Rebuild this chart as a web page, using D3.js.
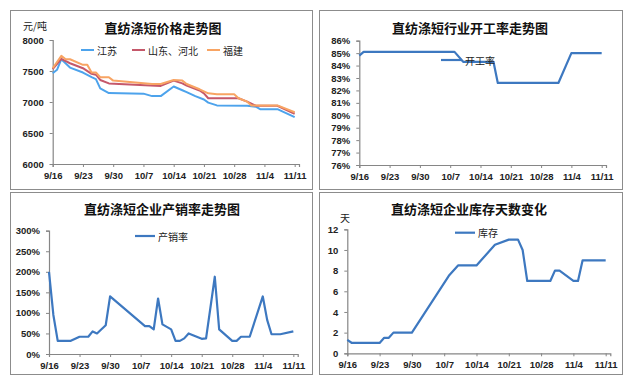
<!DOCTYPE html>
<html>
<head>
<meta charset="utf-8">
<script src="https://cdn.jsdelivr.net/npm/d3@7"></script>
<style>
  body { margin: 0; background: #fff; }
  svg { display: block; }
  .tick-label { font: bold 9.5px "Liberation Sans", Arial, sans-serif; fill: #222; }
  .title { font: bold 13px "Noto Sans CJK SC", sans-serif; fill: #111; }
  .legend, .unit { font: 10px "Noto Sans CJK SC", sans-serif; fill: #222; }
</style>
</head>
<body>
<svg id="chart" width="635" height="387"></svg>
<script>
// x tick labels shared by all four panels
const dateTicks = ["9/16", "9/23", "9/30", "10/7", "10/14", "10/21", "10/28", "11/4", "11/11"];
const dateEnd = "11/12";

// 价格 (元/吨)
const jsDates = ["9/16","9/17","9/18","9/20","9/23","9/25","9/26","9/27","9/29","10/7","10/9","10/11","10/14","10/16","10/17","10/19","10/21","10/22","10/24","10/31","11/2","11/3","11/7","11/11"];
const jsPrice = [7465,7520,7690,7555,7475,7400,7370,7220,7145,7135,7095,7095,7250,7190,7160,7095,7040,6990,6945,6940,6925,6885,6885,6755];

const sdDates = ["9/16","9/18","9/20","9/23","9/25","9/26","9/27","9/29","10/11","10/14","10/16","10/17","10/20","10/21","10/22","10/29","10/31","11/2","11/7","11/11"];
const sdPrice = [7530,7695,7625,7545,7455,7440,7355,7300,7260,7345,7300,7265,7185,7140,7060,7060,7005,6940,6940,6810];

const fjDates = ["9/16","9/18","9/19","9/20","9/23","9/24","9/25","9/26","9/27","9/29","9/30","10/9","10/11","10/14","10/16","10/17","10/20","10/22","10/24","10/28","10/29","10/31","11/1","11/7","11/11"];
const fjPrice = [7545,7745,7690,7690,7600,7600,7475,7475,7400,7400,7345,7290,7290,7355,7345,7290,7205,7140,7125,7125,7060,7005,6945,6945,6835];

// 开工率 (%)
const runDates = ["9/16","9/17","10/8","10/10","10/17","10/18","11/1","11/4","11/11"];
const runRate = [84.8,85.1,85.1,84.3,84.3,82.6,82.6,85.0,85.0];

// 产销率 (%)
const psDates = ["9/16","9/17","9/18","9/21","9/23","9/25","9/26","9/27","9/29","9/30","10/8","10/9","10/10","10/11","10/12","10/14","10/15","10/16","10/17","10/18","10/21","10/22","10/24","10/25","10/28","10/29","10/30","11/1","11/4","11/5","11/6","11/8","11/11"];
const psRate = [200,95,32,32,42,42,55,50,70,140,68,68,60,135,72,60,32,32,38,50,37,38,188,60,32,32,42,42,140,83,48,48,55];

// 库存天数
const stDates = ["9/16","9/17","9/23","9/24","9/25","9/26","9/30","10/8","10/10","10/14","10/15","10/18","10/21","10/23","10/24","10/25","10/30","10/31","11/1","11/4","11/5","11/6","11/11"];
const stDays = [1.3,1,1,1.5,1.5,2,2,7.5,8.5,8.5,9,10.5,11,11,10,7,7,8,8,7,7,9,9];

const parseDate = d3.utcParse("%Y/%m/%d");
const toDate = s => parseDate("2013/" + s);

const svg = d3.select("#chart");
const axisColor = "#868686";

function drawPanel(p) {
  const g = svg.append("g");

  // panel frame
  g.append("rect")
      .attr("x", p.box[0] + 0.5).attr("y", p.box[1] + 0.5)
      .attr("width", p.box[2] - p.box[0]).attr("height", p.box[3] - p.box[1])
      .attr("fill", "#fff").attr("stroke", "#8c8c8c");

  const x = d3.scaleUtc()
      .domain([toDate(dateTicks[0]), toDate(dateEnd)])
      .range([p.plot[0], p.plot[2]]);
  const y = d3.scaleLinear()
      .domain(p.yDomain)
      .range([p.plot[3], p.plot[1]]);

  // y axis
  const yAxis = g.append("g")
      .attr("transform", `translate(${p.plot[0]},0)`)
      .call(d3.axisLeft(y).tickValues(p.yTicks).tickSize(3).tickPadding(6).tickFormat(p.yFormat));
  // x axis
  const xAxis = g.append("g")
      .attr("transform", `translate(0,${p.plot[3]})`)
      .call(d3.axisBottom(x).tickValues(dateTicks.map(toDate)).tickSize(3).tickPadding(5)
        .tickFormat(d3.utcFormat("%-m/%-d")));

  [yAxis, xAxis].forEach(a => {
    a.select(".domain").attr("stroke", axisColor).attr("stroke-width", 1.2);
    a.selectAll(".tick line").attr("stroke", axisColor);
    a.selectAll(".tick text").attr("class", "tick-label").attr("font-size", null).attr("font-family", null);
    a.attr("font-size", null).attr("font-family", null);
  });

  // title and unit
  g.append("text").attr("class", "title")
      .attr("x", p.titlePos[0]).attr("y", p.titlePos[1])
      .attr("text-anchor", "middle").attr("dominant-baseline", "central")
      .text(p.title);
  if (p.unit) {
    g.append("text").attr("class", "unit")
        .attr("x", p.unitPos[0]).attr("y", p.unitPos[1])
        .attr("dominant-baseline", "central")
        .text(p.unit);
  }

  const line = d3.line()
      .x(d => x(d.date))
      .y(d => y(d.value));

  p.series.forEach(s => {
    const data = s.dates.map((dt, i) => ({date: toDate(dt), value: s.values[i]}));
    g.append("path")
        .datum(data)
        .attr("fill", "none")
        .attr("stroke", s.color)
        .attr("stroke-width", s.width)
        .attr("stroke-linejoin", "round")
        .attr("d", line);
  });

  // legend (drawn last, over the lines like the original)
  p.series.forEach((s, i) => {
    const lx = p.legendX[i], ly = p.legendY;
    g.append("line")
        .attr("x1", lx).attr("x2", lx + p.legendLen)
        .attr("y1", ly).attr("y2", ly)
        .attr("stroke", s.color).attr("stroke-width", s.width);
    g.append("text").attr("class", "legend")
        .attr("x", lx + p.legendLen + 3).attr("y", ly)
        .attr("dominant-baseline", "central")
        .text(s.name);
  });
}

const pct = d => d + "%";

drawPanel({
  box: [10, 10, 312, 189],
  plot: [52.7, 40, 299, 164],
  yDomain: [6000, 8000],
  yTicks: d3.range(6000, 8001, 500),
  yFormat: d => d,
  title: "直纺涤短价格走势图",
  titlePos: [163, 27],
  unit: "元/吨",
  unitPos: [23, 25],
  legendX: [81, 132, 207],
  legendY: 50,
  legendLen: 13,
  series: [
    {name: "江苏", dates: jsDates, values: jsPrice, color: "#4da3ec", width: 2},
    {name: "山东、河北", dates: sdDates, values: sdPrice, color: "#c5586a", width: 2},
    {name: "福建", dates: fjDates, values: fjPrice, color: "#f8a463", width: 2}
  ]
});

drawPanel({
  box: [319, 10, 622, 189],
  plot: [359.3, 40.7, 606, 165],
  yDomain: [76, 86],
  yTicks: d3.range(76, 87, 1),
  yFormat: pct,
  title: "直纺涤短行业开工率走势图",
  titlePos: [470, 27],
  legendX: [441],
  legendY: 60,
  legendLen: 21,
  series: [
    {name: "开工率", dates: runDates, values: runRate, color: "#3d78c0", width: 2.2}
  ]
});

drawPanel({
  box: [10, 192, 312, 374],
  plot: [49, 230.7, 297.7, 354],
  yDomain: [0, 300],
  yTicks: d3.range(0, 301, 50),
  yFormat: pct,
  title: "直纺涤短企业产销率走势图",
  titlePos: [162, 208],
  legendX: [135],
  legendY: 236,
  legendLen: 20,
  series: [
    {name: "产销率", dates: psDates, values: psRate, color: "#3d78c0", width: 2.2}
  ]
});

drawPanel({
  box: [319, 192, 622, 374],
  plot: [347.3, 229.3, 610.3, 353.3],
  yDomain: [0, 12],
  yTicks: d3.range(0, 13, 2),
  yFormat: d => d,
  title: "直纺涤短企业库存天数变化",
  titlePos: [469, 208],
  unit: "天",
  unitPos: [340, 217],
  legendX: [455],
  legendY: 232.7,
  legendLen: 20,
  series: [
    {name: "库存", dates: stDates, values: stDays, color: "#3d78c0", width: 2.2}
  ]
});
</script>
</body>
</html>
